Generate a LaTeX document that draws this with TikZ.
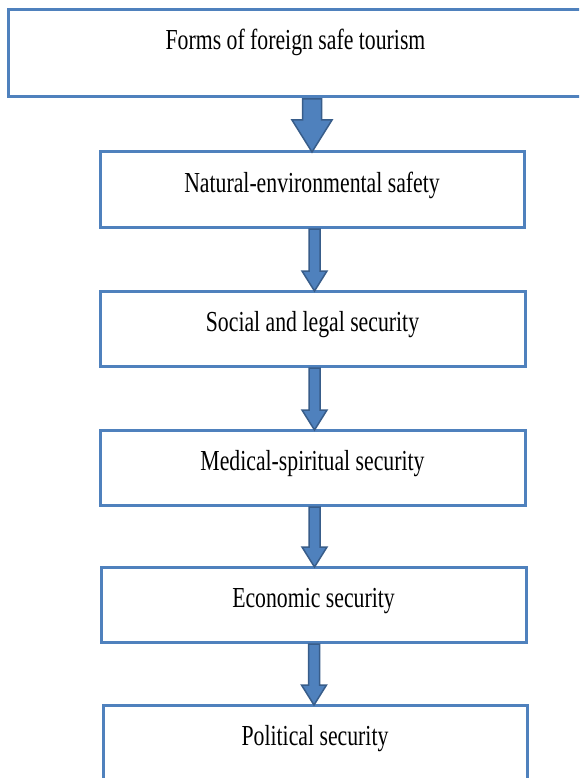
\documentclass[tikz,border=0pt]{standalone}
\usepackage{fontspec}
\setmainfont{Liberation Serif}[FakeStretch=0.75]
\usetikzlibrary{calc}
\definecolor{boxblue}{HTML}{4F81BD}
\definecolor{arrowedge}{HTML}{385D8A}
\tikzset{
  box/.style={draw=boxblue, line width=3pt, fill=white, inner xsep=0pt, inner ysep=0pt,
    outer sep=0pt, text height=40pt, text depth=35pt, minimum width=425pt,
    font=\fontsize{29}{34}\selectfont, anchor=north west},
  arrowstyle/.style={fill=boxblue, draw=arrowedge, line width=1.5pt, line join=miter},
  blockarrow/.style n args={3}{to path={let \p1=(\tikztostart), \p2=(\tikztotarget) in
    (\x1-#1,\y1) -- (\x1+#1,\y1) -- (\x1+#1,\y2+#3) -- (\x1+#2,\y2+#3) -- (\x1,\y2)
    -- (\x1-#2,\y2+#3) -- (\x1-#1,\y2+#3) -- cycle}}
}
\begin{document}
\begin{tikzpicture}[x=1pt,y=1pt]
\useasboundingbox (0,0) rectangle (579,-778);
\clip (0,0) rectangle (579,-778);
\fill[white] (0,0) rectangle (579,-778);
\node[box, minimum width=575pt, text depth=47pt] (b1) at (8,-10) {Forms of foreign safe tourism};
\node[box, minimum width=424pt] (b2) at (100,-152) {Natural-environmental safety};
\node[box] (b3) at (100,-291) {Social and legal security};
\node[box] (b4) at (100,-430) {Medical-spiritual security};
\node[box] (b5) at (101,-567) {Economic security};
\node[box, minimum width=424pt, text depth=60pt] (b6) at (103,-705) {Political security};
\draw[arrowstyle, blockarrow={9.5pt}{20pt}{32pt}] ($(b2.north |- b1.south)+(0,-2)$) to (b2.north);
\draw[arrowstyle, blockarrow={5.5pt}{12.5pt}{20pt}] ($(b2.south)+(2.5,-2)$) to (b3.north);
\draw[arrowstyle, blockarrow={5.5pt}{12.5pt}{20pt}] ($(b3.south)+(2,-2)$) to (b4.north);
\draw[arrowstyle, blockarrow={5.5pt}{12.5pt}{20pt}] ($(b4.south)+(2,-2)$) to (b5.north);
\draw[arrowstyle, blockarrow={5.5pt}{12.5pt}{20pt}] ($(b5.south)+(0.5,-2)$) to (b6.north);
\end{tikzpicture}
\end{document}
